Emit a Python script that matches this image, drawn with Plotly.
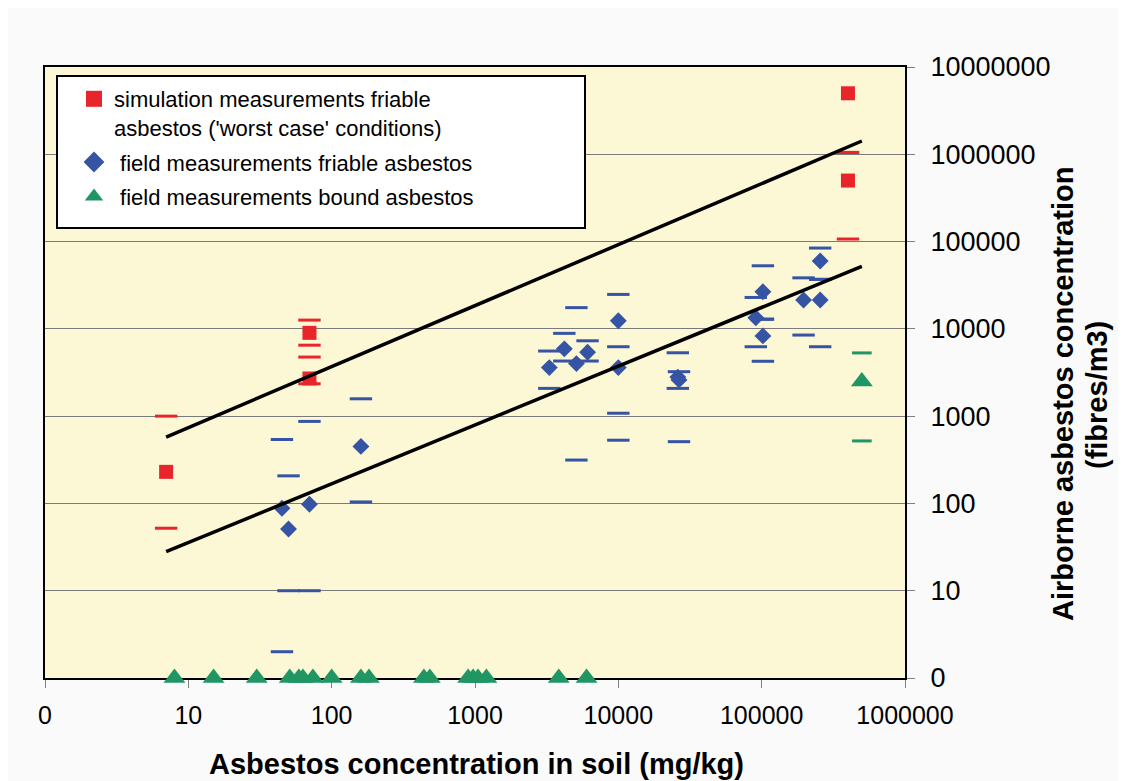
import plotly.graph_objects as go

# ---------------- data ----------------
# simulation measurements friable asbestos ('worst case')
sim_x = [7, 70, 70, 400000, 400000]
sim_y = [230, 9000, 2700, 5000000, 500000]
sim_hi = [1000, 12600, 4750, 10500000, 1050000]
sim_lo = [52, 6500, 2350, 1050000, 107000]

# field measurements friable asbestos
fri_x = [45, 50, 70, 160, 3300, 4200, 5100, 6100, 10000, 10000, 26000, 26500,
         91000, 102000, 102000, 196000, 256000, 256000]
fri_y = [88, 51, 98, 450, 3600, 5900, 4000, 5400, 12400, 3600, 2800, 2600,
         13400, 26600, 8300, 21400, 21400, 60000]
fri_hi = [540, 207, 870, 1580, 5570, 8880, 17500, 7300, 24800, 6240, 5320, 3230,
          22900, 52800, 12900, 38400, 36900, 84300]
fri_lo = [2, 10, 10, 104, 2080, 4280, 314, 4280, 1080, 530, 2080, 510,
          6240, 12900, 4250, 8490, 6240, 36900]

# field measurements bound asbestos (values of 0 plotted on the axis floor)
bnd_x = [8, 15, 30, 51, 59, 63, 74, 100, 160, 182, 440, 484, 895, 970, 1050, 1200,
         3840, 6000, 500000]
bnd_y = [1, 1, 1, 1, 1, 1, 1, 1, 1, 1, 1, 1, 1, 1, 1, 1, 1, 1, 2500]
bnd_hi_x = [500000]
bnd_hi = [5300]
bnd_lo = [520]

# trend lines
line_x = [7, 500000]
upper_y = [575, 1420000]
lower_y = [28, 52000]

x_ticks = [1, 10, 100, 1000, 10000, 100000, 1000000]
x_ticktext = ["0", "10", "100", "1000", "10000", "100000", "1000000"]
y_ticks = [1, 10, 100, 1000, 10000, 100000, 1000000, 10000000]
y_ticktext = ["0", "10", "100", "1000", "10000", "100000", "1000000", "10000000"]

legend_names = ["simulation measurements friable<br>asbestos ('worst case' conditions)",
                " field measurements friable asbestos",
                " field measurements bound asbestos"]

RED = "#E8252A"
BLUE = "#3654A4"
GREEN = "#1F9664"
FONT = "Liberation Sans, Arial, sans-serif"

fig = go.Figure()

# red simulation
fig.add_trace(go.Scatter(
    x=sim_x, y=sim_y, mode="markers",
    marker=dict(symbol="square", size=14, color=RED),
    name=legend_names[0], showlegend=False, cliponaxis=False))
fig.add_trace(go.Scatter(
    x=sim_x + sim_x, y=sim_hi + sim_lo, mode="markers",
    marker=dict(symbol="line-ew", size=16, line=dict(width=3, color=RED)),
    showlegend=False, cliponaxis=False, hoverinfo="skip"))

# blue friable
fig.add_trace(go.Scatter(
    x=fri_x, y=fri_y, mode="markers",
    marker=dict(symbol="diamond", size=13, color=BLUE),
    name=legend_names[1], showlegend=False, cliponaxis=False))
fig.add_trace(go.Scatter(
    x=fri_x + fri_x, y=fri_hi + fri_lo, mode="markers",
    marker=dict(symbol="line-ew", size=16, line=dict(width=3, color=BLUE)),
    showlegend=False, cliponaxis=False, hoverinfo="skip"))

# green bound
fig.add_trace(go.Scatter(
    x=bnd_x, y=bnd_y, mode="markers",
    marker=dict(symbol="triangle-up", size=19, color=GREEN),
    name=legend_names[2], showlegend=False, cliponaxis=False))
fig.add_trace(go.Scatter(
    x=bnd_hi_x + bnd_hi_x, y=bnd_hi + bnd_lo, mode="markers",
    marker=dict(symbol="line-ew", size=14, line=dict(width=3, color=GREEN)),
    showlegend=False, cliponaxis=False, hoverinfo="skip"))

# trend lines
fig.add_trace(go.Scatter(x=line_x, y=upper_y, mode="lines",
                         line=dict(color="black", width=3.5), showlegend=False))
fig.add_trace(go.Scatter(x=line_x, y=lower_y, mode="lines",
                         line=dict(color="black", width=3.5), showlegend=False))

# legend entries (larger legend symbols, as in the original)
for nm, sym, col, grp in zip(legend_names, ["square", "diamond", "triangle-up"],
                             [RED, BLUE, GREEN], ["a", "b", "c"]):
    fig.add_trace(go.Scatter(x=[None], y=[None], mode="markers", name=nm,
                             marker=dict(symbol=sym, size=16, color=col),
                             legendgroup=grp, showlegend=True))

OFF = 8  # page body margin
W, H = 1126 - OFF, 781 - OFF
L, T = 45 - OFF, 67 - OFF
R = W - (905 - OFF)
B = H - (678 - OFF)
pw, ph = W - L - R, H - T - B

def px_x(p):
    return (p - OFF - L) / pw

def px_y(p):
    return (H - B - (p - OFF)) / ph

fig.update_layout(
    width=W, height=H,
    margin=dict(l=L, r=R, t=T, b=B),
    paper_bgcolor="#FAFAFA",
    plot_bgcolor="#FCF7D5",
    font=dict(family=FONT, color="black"),
    showlegend=True,
    legend=dict(
        x=px_x(74), y=px_y(78), xanchor="left", yanchor="top",
        bgcolor="rgba(0,0,0,0)", borderwidth=0,
        font=dict(size=22, family=FONT, color="black"),
        valign="top", tracegroupgap=3,
    ),
    xaxis=dict(
        type="log", range=[0, 6],
        tickvals=x_ticks, ticktext=x_ticktext,
        tickfont=dict(size=25, family=FONT),
        ticks="outside", ticklen=8, tickcolor="#808080", tickwidth=1,
        ticklabelstandoff=6, layer="below traces",
        showgrid=False, zeroline=False,
        showline=True, linecolor="black", linewidth=2, mirror=True,
    ),
    yaxis=dict(
        type="log", range=[0, 7], side="right",
        tickvals=y_ticks, ticktext=y_ticktext,
        tickfont=dict(size=27, family=FONT),
        ticks="outside", ticklen=8, tickcolor="#808080", tickwidth=1,
        ticklabelstandoff=10, layer="below traces",
        showgrid=True, gridcolor="#7A7A7A", gridwidth=1, zeroline=False,
        showline=True, linecolor="black", linewidth=2, mirror=True,
    ),
    shapes=[dict(type="rect", xref="paper", yref="paper",
                 x0=px_x(57), x1=px_x(585), y0=px_y(228), y1=px_y(76),
                 fillcolor="white", line=dict(color="black", width=2),
                 layer="above")],
    annotations=[
        dict(text="<b>Asbestos concentration in soil (mg/kg)</b>",
             xref="paper", yref="paper", x=px_x(476), y=px_y(764),
             xanchor="center", yanchor="middle", showarrow=False,
             font=dict(size=29, family=FONT)),
        dict(text="<b>Airborne asbestos concentration</b>",
             xref="paper", yref="paper", x=px_x(1063), y=px_y(394),
             xanchor="center", yanchor="middle", showarrow=False, textangle=-90,
             font=dict(size=29, family=FONT)),
        dict(text="<b>(fibres/m3)</b>",
             xref="paper", yref="paper", x=px_x(1097), y=px_y(395),
             xanchor="center", yanchor="middle", showarrow=False, textangle=-90,
             font=dict(size=29, family=FONT)),
    ],
)

fig.write_html("out.html")
